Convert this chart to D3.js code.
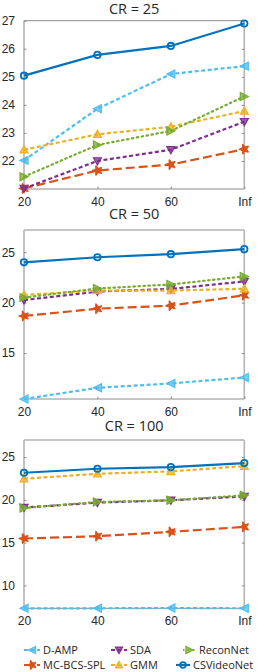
<!DOCTYPE html>
<html>
<head>
<meta charset="utf-8">
<script src="https://cdn.jsdelivr.net/npm/d3@7/dist/d3.min.js"></script>
<style>
  body { margin: 0; background: #fff; }
  svg { display: block; font-family: "Open Sans", "Noto Sans", sans-serif; }
  .tick-label { font-size: 12px; fill: #262626; }
  .title { font-size: 14.5px; fill: #262626; }
  .legend-label { font-size: 11px; fill: #262626; }
</style>
</head>
<body>
<div id="chart"></div>
<script>
// ---- data ----
const xLabels = ["20", "40", "60", "Inf"];
const seriesNames = ["D-AMP", "MC-BCS-SPL", "SDA", "GMM", "ReconNet", "CSVideoNet"];

// values in the same order as seriesNames
const cr25Values = [
  [22.02, 23.86, 25.1, 25.38],
  [21.02, 21.66, 21.87, 22.42],
  [21.02, 22.0, 22.4, 23.4],
  [22.4, 22.95, 23.22, 23.78],
  [21.44, 22.57, 23.07, 24.3],
  [25.04, 25.78, 26.1, 26.9]
];
const cr50Values = [
  [10.45, 11.56, 11.99, 12.58],
  [18.68, 19.4, 19.7, 20.73],
  [20.26, 21.1, 21.36, 22.1],
  [20.76, 21.2, 21.2, 21.38],
  [20.5, 21.4, 21.8, 22.6],
  [24.0, 24.5, 24.8, 25.3]
];
const cr100Values = [
  [7.32, 7.32, 7.36, 7.32],
  [15.48, 15.75, 16.26, 16.84],
  [19.1, 19.68, 19.95, 20.4],
  [22.47, 23.05, 23.33, 23.95],
  [19.05, 19.75, 19.95, 20.53],
  [23.17, 23.64, 23.83, 24.3]
];
const cr25Ticks = [22, 23, 24, 25, 26, 27];
const cr50Ticks = [15, 20, 25];
const cr100Ticks = [10, 15, 20, 25];

// ---- styles ----
const colors = ["#4DBEEE", "#D95319", "#7E2F8E", "#EDB120", "#77AC30", "#0072BD"];
const dashes = ["4,2.5", "9,4", "4,2.5", "4,2.5", "1.5,3.5", null];
const symbols = ["left", "star", "down", "up", "right", "circle"];

const width = 257, height = 672;
const left = 24, right = 244.3;

const panels = [
  { title: "CR = 25", values: cr25Values, ticks: cr25Ticks, domain: [21, 27], top: 20.7, bottom: 189, titleY: 14 },
  { title: "CR = 50", values: cr50Values, ticks: cr50Ticks, domain: [10.45, 27.2], top: 230, bottom: 399, titleY: 219 },
  { title: "CR = 100", values: cr100Values, ticks: cr100Ticks, domain: [7.32, 27], top: 440, bottom: 608.3, titleY: 431 }
];

const svg = d3.select("#chart").append("svg")
  .attr("width", width)
  .attr("height", height);

const x = d3.scalePoint().domain(xLabels).range([left, right]);

function marker(g, type, cx, cy, color, s) {
  s = s || 4;
  let path;
  if (type === "circle") {
    g.append("circle").attr("cx", cx).attr("cy", cy).attr("r", s - 0.8)
      .attr("fill", "none").attr("stroke", color).attr("stroke-width", 1.8);
    return;
  }
  if (type === "star") {
    // small six-pointed blob, like matlab's hexagram
    g.append("path").attr("d", d3.symbol().type(d3.symbolStar).size(s * s * 1.6)())
      .attr("transform", "translate(" + cx + "," + cy + ") rotate(-90)")
      .attr("fill", color).attr("stroke", color).attr("stroke-width", 1.6)
      .attr("stroke-linejoin", "round");
    return;
  }
  if (type === "left") path = [[-s, 0], [s, -s], [s, s]];
  if (type === "right") path = [[s, 0], [-s, -s], [-s, s]];
  if (type === "up") path = [[0, -s], [-s, s * 0.8], [s, s * 0.8]];
  if (type === "down") path = [[0, s], [-s, -s * 0.8], [s, -s * 0.8]];
  g.append("path")
    .attr("d", "M" + path.map(p => (p[0] + cx) + "," + (p[1] + cy)).join("L") + "Z")
    .attr("fill", color).attr("fill-opacity", 0.75)
    .attr("stroke", color).attr("stroke-width", 1.2);
}

panels.forEach(p => {
  const y = d3.scaleLinear().domain(p.domain).range([p.bottom, p.top]);
  const g = svg.append("g");

  // title
  g.append("text").attr("class", "title")
    .attr("x", (left + right) / 2).attr("y", p.titleY)
    .attr("text-anchor", "middle").text(p.title);

  // box
  g.append("line").attr("x1", left).attr("x2", right).attr("y1", p.top).attr("y2", p.top)
    .attr("stroke", "#8c8c8c").attr("stroke-width", 1);
  g.append("line").attr("x1", left).attr("x2", right).attr("y1", p.bottom).attr("y2", p.bottom)
    .attr("stroke", "#8c8c8c").attr("stroke-width", 1);
  [left, right].forEach(xx => {
    g.append("line").attr("x1", xx).attr("x2", xx).attr("y1", p.top).attr("y2", p.bottom)
      .attr("stroke", "#b4b4b4").attr("stroke-width", 1.6);
  });

  // y axis
  const yAxis = g.append("g")
    .attr("transform", "translate(" + left + ",0)")
    .call(d3.axisLeft(y).tickValues(p.ticks).tickFormat(d3.format("d")).tickSize(-2.5).tickPadding(9));
  yAxis.select(".domain").remove();
  yAxis.selectAll("line").attr("stroke", "#8c8c8c");
  yAxis.selectAll("text").attr("class", "tick-label").attr("font-family", null).attr("font-size", null);

  // right ticks
  g.append("g").attr("transform", "translate(" + right + ",0)")
    .call(d3.axisRight(y).tickValues(p.ticks).tickSize(-2.5).tickFormat(""))
    .call(a => a.select(".domain").remove())
    .selectAll("line").attr("stroke", "#8c8c8c");

  // x axis
  const xAxis = g.append("g")
    .attr("transform", "translate(0," + p.bottom + ")")
    .call(d3.axisBottom(x).tickSize(-2.5).tickPadding(8));
  xAxis.select(".domain").remove();
  xAxis.selectAll("line").attr("stroke", "#8c8c8c");
  xAxis.selectAll("text").attr("class", "tick-label").attr("font-family", null).attr("font-size", null);

  // series
  const line = d3.line().x((d, i) => x(xLabels[i])).y(d => y(d));
  p.values.forEach((vals, si) => {
    const sg = g.append("g");
    sg.append("path").attr("d", line(vals))
      .attr("fill", "none").attr("stroke", colors[si])
      .attr("stroke-width", 2.2)
      .attr("stroke-linecap", dashes[si] === "1.5,3.5" ? "round" : "butt")
      .attr("stroke-dasharray", dashes[si]);
    vals.forEach((v, i) => marker(sg, symbols[si], x(xLabels[i]), y(v), colors[si]));
  });
});

// ---- legend ----
const legendPos = [
  { lx: 24, tx: 43, y: 650 },
  { lx: 24, tx: 43, y: 665 },
  { lx: 111, tx: 130, y: 650 },
  { lx: 111, tx: 130, y: 665 },
  { lx: 183, tx: 199, y: 650 },
  { lx: 176, tx: 193, y: 665 }
];
seriesNames.forEach((name, si) => {
  const lp = legendPos[si];
  const lg = svg.append("g");
  lg.append("line").attr("x1", lp.lx).attr("x2", lp.tx - 3)
    .attr("y1", lp.y).attr("y2", lp.y)
    .attr("stroke", colors[si]).attr("stroke-width", 2.2)
    .attr("stroke-dasharray", dashes[si]);
  marker(lg, symbols[si], (lp.lx + lp.tx - 3) / 2, lp.y, colors[si], 3.6);
  lg.append("text").attr("class", "legend-label")
    .attr("x", lp.tx).attr("y", lp.y).attr("dy", "0.35em").text(name);
});
</script>
</body>
</html>
